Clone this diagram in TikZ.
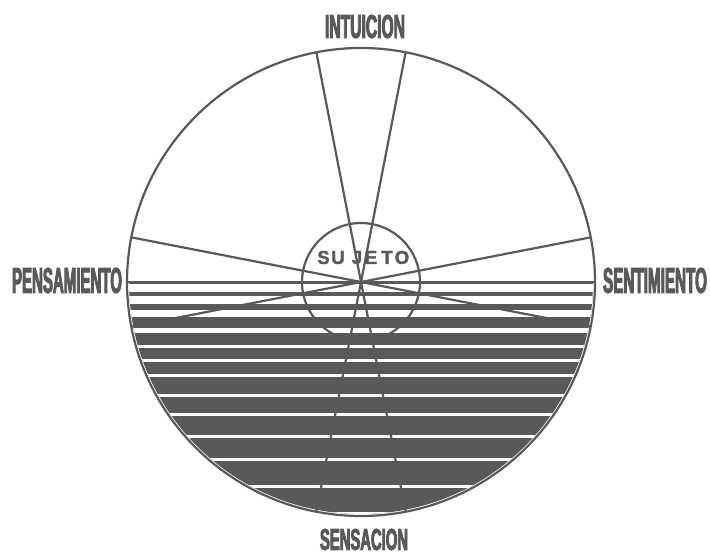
\documentclass[tikz,border=0pt]{standalone}
\usepackage{fontspec}
\setmainfont{Liberation Sans}
\newfontfamily\labfont{Liberation Sans Bold}[FakeStretch=0.55,FakeBold=3]
\newfontfamily\subfont{Liberation Sans Bold}[FakeBold=1.5]
\usepackage{graphicx}
\usetikzlibrary{calc}
\definecolor{ink}{HTML}{595959}
\begin{document}
\begin{tikzpicture}[x=1pt,y=-1pt,
  rline/.style={draw=ink,line width=2.2pt},
  lab/.style={inner sep=0pt,text=ink},
  sletter/.style={inner sep=0pt,text=ink}]
\useasboundingbox (0,0) rectangle (710,556);
\fill[white] (0,0) rectangle (710,556);
\coordinate (C) at (361,282);
% shaded lower half with white stripes
\begin{scope}
  \clip (C) circle[radius=232pt];
  \fill[ink] (100,282) rectangle (620,530);
  \foreach \a/\b in {284/292,296/304,310/317,328/333,345.3/347.7,359.3/361.7,374.3/376.7,394.3/396.7,413.3/415.7,435.3/437.7,458.3/460.7,485.3/487.7,512.3/514.7}
    \fill[white] (100,\a) rectangle (620,\b);
\end{scope}
% end points on the big circle
\coordinate (tl) at ($(C)+(259:234)$);
\coordinate (tr) at ($(C)+(281:234)$);
\coordinate (br) at ($(C)+(79:234)$);
\coordinate (bl) at ($(C)+(101:234)$);
\coordinate (lu) at ($(C)+(191:234)$);
\coordinate (ld) at ($(C)+(169:234)$);
\coordinate (ru) at ($(C)+(349:234)$);
\coordinate (rd) at ($(C)+(11:234)$);
\coordinate (le) at ($(C)+(180:234)$);
\coordinate (re) at ($(C)+(0:234)$);
\draw[rline] (tl) -- (br);
\draw[rline] (tr) -- (bl);
\draw[rline] (lu) -- (rd);
\draw[rline] (ru) -- (ld);
\draw[rline,line width=2pt] (le) -- (re);
\draw[rline] (C) circle[radius=234pt];
\draw[rline] (C) circle[radius=59pt];
% labels
\node[lab] (intu) at (365,26.5) {\resizebox{80pt}{23pt}{\labfont INTUICION}};
\node[lab] (pens) at (67,280.5) {\resizebox{110pt}{25pt}{\labfont PENSAMIENTO}};
\node[lab] (sent) at (655,280.5) {\resizebox{104pt}{25pt}{\labfont SENTIMIENTO}};
\node[lab] (sens) at (364,539.5) {\resizebox{88pt}{21pt}{\labfont SENSACION}};
% SUJETO
\foreach \l/\x/\n in {S/323.5/s1,U/338/s2,J/357/s3,E/371/s4,T/387/s5,O/402/s6}
  \node[sletter] (\n) at (\x,257.5) {\resizebox{!}{13pt}{\subfont \l}};
\end{tikzpicture}
\end{document}
